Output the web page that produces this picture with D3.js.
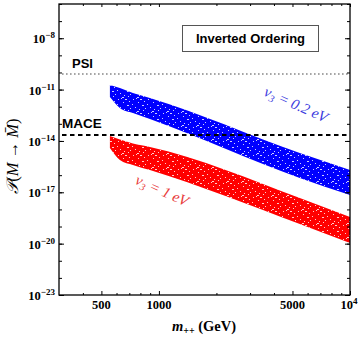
<!DOCTYPE html>
<html>
<head>
<meta charset="utf-8">
<script src="https://cdn.jsdelivr.net/npm/d3@7"></script>
<style>
  body { margin: 0; background: #fff; }
</style>
</head>
<body>
<div id="chart"></div>
<script>
// band edges: mass in GeV, edges as log10 of the probability
const massPts = [554, 625, 731, 897, 5460, 10000]
const blueUpper = [-10.73, -10.91, -11.2, -11.49, -14.70, -15.70]
const blueLower = [-11.43, -12.07, -12.37, -12.72, -16.16, -17.16]
const redUpper = [-13.71, -13.92, -14.15, -14.35, -17.33, -18.44]
const redLower = [-14.41, -15.11, -15.40, -15.70, -18.85, -19.96]

// experimental bounds (log10)
const psiBound = -10.09
const maceBound = -13.65

const yMajor = [-23, -20, -17, -14, -11, -8]
const yMinor = d3.range(-23, -5)
const xMajor = [500, 1000, 5000, 10000]
const xMajorLabels = ["500", "1000", "5000", "10^4"]
const xMinor = [400, 600, 700, 800, 900, 2000, 3000, 4000, 6000, 7000, 8000, 9000]

const width = 360, height = 340
const mLeft = 59, mRight = 350, mTop = 4, mBottom = 295

const svg = d3.select("#chart").append("svg")
  .attr("width", width)
  .attr("height", height)

const x = d3.scaleLog().domain([300, 10000]).range([mLeft, mRight])
const y = d3.scaleLog().domain([1e-23, 1e-6]).range([mBottom, mTop])

// speckle texture for the scatter bands (purely decorative)
const defs = svg.append("defs")
const specks = [[1, 0, 1], [5, 1, 2], [9, 3, 1], [3, 4, 1], [12, 6, 1], [7, 7, 2], [0, 9, 1],
  [10, 10, 1], [4, 11, 1], [13, 1, 1], [8, 12, 1], [2, 13, 2]]
const pat = defs.append("pattern")
  .attr("id", "speck")
  .attr("patternUnits", "userSpaceOnUse")
  .attr("width", 15).attr("height", 14)
pat.selectAll("rect").data(specks).join("rect")
  .attr("x", d => d[0]).attr("y", d => d[1])
  .attr("width", d => d[2]).attr("height", 1)
  .attr("fill", "#fff")

const bands = [
  { upper: blueUpper, lower: blueLower, color: "#0000ff" },
  { upper: redUpper, lower: redLower, color: "#ff0000" },
]

const area = d3.area()
  .x(d => x(d.m))
  .y0(d => y(Math.pow(10, d.lo)))
  .y1(d => y(Math.pow(10, d.hi)))
  .curve(d3.curveMonotoneX)

bands.forEach(b => {
  const pts = massPts.map((m, i) => ({ m, hi: b.upper[i], lo: b.lower[i] }))
  svg.append("path").attr("d", area(pts)).attr("fill", b.color)
  svg.append("path").attr("d", area(pts)).attr("fill", "url(#speck)").attr("opacity", 0.8)
})

// PSI and MACE lines
svg.append("line")
  .attr("x1", mLeft + 3).attr("x2", mRight)
  .attr("y1", y(Math.pow(10, psiBound))).attr("y2", y(Math.pow(10, psiBound)))
  .attr("stroke", "#888").attr("stroke-width", 1.6)
  .attr("stroke-dasharray", "1.6 2.4")
svg.append("line")
  .attr("x1", mLeft + 3).attr("x2", mRight)
  .attr("y1", y(Math.pow(10, maceBound))).attr("y2", y(Math.pow(10, maceBound)))
  .attr("stroke", "#000").attr("stroke-width", 2)
  .attr("stroke-dasharray", "4.5 3.5")

svg.append("text").attr("x", 72).attr("y", 68).text("PSI")
  .style("font", "bold 13px 'Liberation Sans', Arial, sans-serif")
svg.append("text").attr("x", 62).attr("y", 128).text("MACE")
  .style("font", "bold 13.5px 'Liberation Sans', Arial, sans-serif")

// legend box
svg.append("rect").attr("x", 182.5).attr("y", 25.5).attr("width", 136).attr("height", 26)
  .attr("fill", "#fff").attr("stroke", "#555").attr("stroke-width", 1)
svg.append("text").attr("x", 250.5).attr("y", 43).attr("text-anchor", "middle")
  .text("Inverted Ordering")
  .style("font", "bold 13px 'Liberation Sans', Arial, sans-serif")

// band labels
function bandLabel(cx, cy, angle, value, color) {
  const t = svg.append("text")
    .attr("transform", `translate(${cx},${cy}) rotate(${angle})`)
    .attr("text-anchor", "middle")
    .attr("fill", color)
    .style("font", "italic 15px 'Liberation Serif', 'Times New Roman', serif")
  t.append("tspan").text("v")
  t.append("tspan").text("3").attr("dy", 3).style("font-size", "10px")
  t.append("tspan").text(" = " + value + " eV").attr("dy", -3)
}
bandLabel(294, 109, 24, "0.2", "#3a3ade")
bandLabel(160, 195, 24, "1", "#e83a3a")

// axes: ticks point inward on all four sides
const g = svg.append("g")
function tickAxis(axis, tr, size, values) {
  g.append("g").attr("transform", tr)
    .call(axis.tickValues(values).tickSize(size).tickFormat(() => ""))
    .call(s => s.select(".domain").remove())
    .call(s => s.selectAll("line").attr("stroke", "#000"))
}
const yMaj = yMajor.map(e => Math.pow(10, e))
const yMin = yMinor.map(e => Math.pow(10, e))
tickAxis(d3.axisLeft(y), `translate(${mLeft},0)`, -5, yMaj)
tickAxis(d3.axisLeft(y), `translate(${mLeft},0)`, -3, yMin)
tickAxis(d3.axisRight(y), `translate(${mRight},0)`, -5, yMaj)
tickAxis(d3.axisRight(y), `translate(${mRight},0)`, -3, yMin)
tickAxis(d3.axisBottom(x), `translate(0,${mBottom})`, -4, xMajor)
tickAxis(d3.axisBottom(x), `translate(0,${mBottom})`, -2, xMinor)
tickAxis(d3.axisTop(x), `translate(0,${mTop})`, -3, xMajor)
tickAxis(d3.axisTop(x), `translate(0,${mTop})`, -2, xMinor)

svg.append("rect")
  .attr("x", mLeft).attr("y", mTop)
  .attr("width", mRight - mLeft).attr("height", mBottom - mTop)
  .attr("fill", "none").attr("stroke", "#000").attr("stroke-width", 1.3)

const tickFont = "bold 12.5px 'Liberation Serif', 'Times New Roman', serif"

// y tick labels 10^e
yMajor.forEach(e => {
  const t = svg.append("text")
    .attr("x", 55).attr("y", y(Math.pow(10, e)) + 5)
    .attr("text-anchor", "end")
    .style("font", tickFont)
  t.append("tspan").text("10")
  t.append("tspan").text("−" + Math.abs(e)).attr("dy", -5).style("font-size", "9px")
})

// x tick labels
xMajor.forEach((v, i) => {
  const lab = xMajorLabels[i]
  const t = svg.append("text")
    .attr("x", x(v)).attr("y", 309)
    .attr("text-anchor", "middle")
    .style("font", tickFont)
  if (lab.includes("^")) {
    const [b, p] = lab.split("^")
    t.attr("x", x(v) - 1)
    t.append("tspan").text(b)
    t.append("tspan").text(p).attr("dy", -5).style("font-size", "9px")
  } else {
    t.text(lab)
  }
})

// axis titles
const xt = svg.append("text")
  .attr("x", 204).attr("y", 331)
  .attr("text-anchor", "middle")
  .style("font", "bold 14.5px 'Liberation Serif', 'Times New Roman', serif")
xt.append("tspan").text("m").style("font-style", "italic")
xt.append("tspan").text("++").attr("dy", 3).style("font-size", "10px")
xt.append("tspan").text(" (GeV)").attr("dy", -3)

const yt = svg.append("text")
  .attr("transform", "translate(18,156) rotate(-90)")
  .attr("text-anchor", "middle")
  .style("font", "italic 16.5px 'Liberation Serif', 'Times New Roman', serif")
yt.append("tspan").text("𝒫")
yt.append("tspan").text("(").style("font-style", "normal")
yt.append("tspan").text("M")
yt.append("tspan").text(" → ").style("font-style", "normal")
yt.append("tspan").text("M\u0304")
yt.append("tspan").text(")").style("font-style", "normal")
</script>
</body>
</html>
